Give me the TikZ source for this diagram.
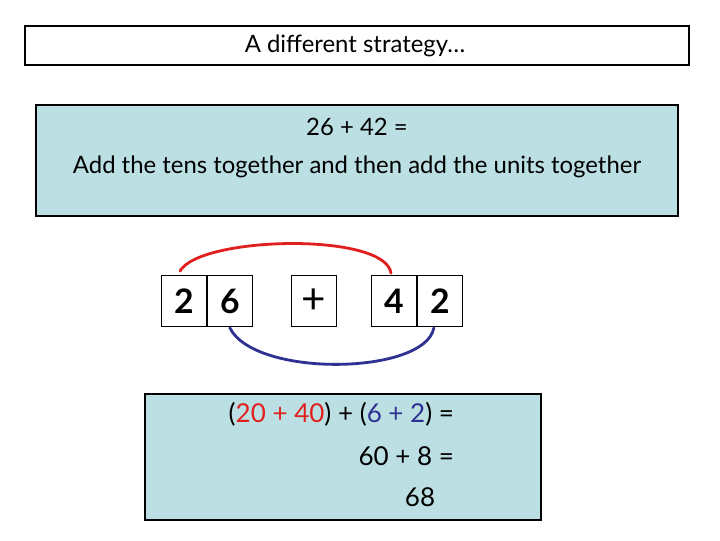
\documentclass[tikz,border=0pt]{standalone}
\usepackage{fontspec}
\setmainfont{Lato}
\usepackage{xcolor}
\usepackage{tikz}
\usetikzlibrary{positioning}
\definecolor{panel}{HTML}{BCDFE3}
\definecolor{tens}{HTML}{E0201E}
\definecolor{units}{HTML}{2E3192}
\definecolor{ink}{HTML}{000000}
\tikzset{
  frame/.style={draw=ink, line width=1.8pt},
  panelbox/.style={draw=ink, fill=panel, line width=1.8pt},
  digit/.style={draw=ink, line width=0.6pt, minimum width=45*0.025cm, minimum height=51*0.025cm, inner sep=0pt, font=\fontsize{24}{27}\selectfont\bfseries},
  lab/.style={text=ink, font=\fontsize{17}{20}\selectfont},
  labw/.style={text=ink, font=\fontsize{18.5}{21}\selectfont},
  head/.style={text=ink, font=\fontsize{17}{20}\selectfont},
  tensarc/.style={draw=tens, line width=2pt, line cap=round},
  unitsarc/.style={draw=units, line width=2pt, line cap=round},
}
\begin{document}
\begin{tikzpicture}[x=0.025cm, y=-0.025cm]
  \useasboundingbox (0,0) rectangle (720,540);
  % title
  \draw[frame] (25,26) rectangle (689,65);
  \node[head] (title) at (355,46) {A different strategy…};
  % task panel
  \draw[panelbox] (36,105) rectangle (678,216);
  \node[lab] (sum) at (357,127) {26 + 42 =};
  \node[lab] (rule) at (357,167) {Add the tens together and then add the units together};
  % place-value boxes
  \node[digit] (tensA) at (184,301) {2};
  \node[digit, right=0pt of tensA] (unitsA) {6};
  \node[digit, font=\fontsize{30}{30}\selectfont] (plus) at (314,301) {+};
  \node[digit] (tensB) at (394,301) {4};
  \node[digit, right=0pt of tensB] (unitsB) {2};
  \draw[tensarc] ([shift={(-4,-4)}]tensA.north) .. controls (200,236) and (385,232) .. ([shift={(-3,-2)}]tensB.north);
  \draw[unitsarc] ([shift={(0,1)}]unitsA.south) .. controls (255,378) and (425,375) .. ([shift={(-6,1)}]unitsB.south);
  % working
  \draw[panelbox] (145,394) rectangle (541,520);
  \node[labw, anchor=east] (step1) at (459,414) {(\textcolor{tens}{20 + 40}) + (\textcolor{units}{6 + 2}) =};
  \node[labw, anchor=east] (step2) at (459,456) {60 + 8 =};
  \node[labw] (step3) at (420,497) {68};
\end{tikzpicture}
\end{document}
